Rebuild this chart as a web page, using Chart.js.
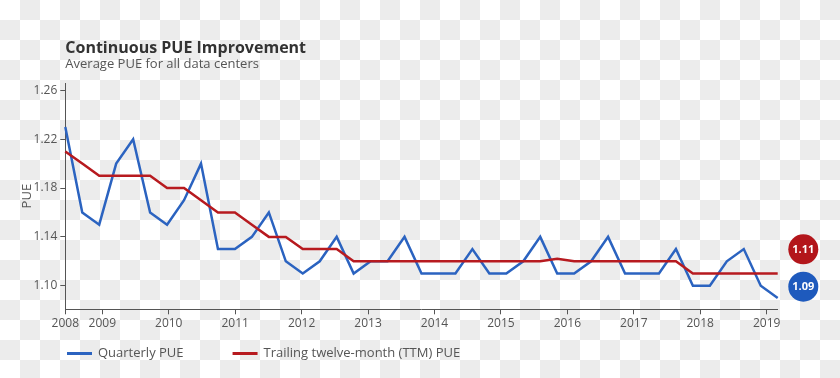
<!DOCTYPE html>
<html>
<head>
<meta charset="utf-8">
<script src="https://cdn.jsdelivr.net/npm/chart.js@4.4.0/dist/chart.umd.min.js"></script>
<style>
  html, body { margin: 0; padding: 0; }
  body {
    width: 840px; height: 378px; overflow: hidden;
    background: repeating-conic-gradient(#ececec 0 25%, #ffffff 0 50%) 0 0 / 40px 40px;
  }
</style>
</head>
<body>
<canvas id="pueChart" width="840" height="378"></canvas>
<script>
// quarterly data, Q3 2008 .. Q1 2019
const quarters = [
  'Q3 2008', 'Q4 2008',
  'Q1 2009', 'Q2 2009', 'Q3 2009', 'Q4 2009',
  'Q1 2010', 'Q2 2010', 'Q3 2010', 'Q4 2010',
  'Q1 2011', 'Q2 2011', 'Q3 2011', 'Q4 2011',
  'Q1 2012', 'Q2 2012', 'Q3 2012', 'Q4 2012',
  'Q1 2013', 'Q2 2013', 'Q3 2013', 'Q4 2013',
  'Q1 2014', 'Q2 2014', 'Q3 2014', 'Q4 2014',
  'Q1 2015', 'Q2 2015', 'Q3 2015', 'Q4 2015',
  'Q1 2016', 'Q2 2016', 'Q3 2016', 'Q4 2016',
  'Q1 2017', 'Q2 2017', 'Q3 2017', 'Q4 2017',
  'Q1 2018', 'Q2 2018', 'Q3 2018', 'Q4 2018',
  'Q1 2019'
];
const quarterlyPue = [
  1.23, 1.16,
  1.15, 1.20, 1.22, 1.16,
  1.15, 1.17, 1.20, 1.13,
  1.13, 1.14, 1.16, 1.12,
  1.11, 1.12, 1.14, 1.11,
  1.12, 1.12, 1.14, 1.11,
  1.11, 1.11, 1.13, 1.11,
  1.11, 1.12, 1.14, 1.11,
  1.11, 1.12, 1.14, 1.11,
  1.11, 1.11, 1.13, 1.10,
  1.10, 1.12, 1.13, 1.10,
  1.09
];
const ttmPue = [
  1.21, 1.20,
  1.19, 1.19, 1.19, 1.19,
  1.18, 1.18, 1.17, 1.16,
  1.16, 1.15, 1.14, 1.14,
  1.13, 1.13, 1.13, 1.12,
  1.12, 1.12, 1.12, 1.12,
  1.12, 1.12, 1.12, 1.12,
  1.12, 1.12, 1.12, 1.122,
  1.12, 1.12, 1.12, 1.12,
  1.12, 1.12, 1.12, 1.11,
  1.11, 1.11, 1.11, 1.11,
  1.11
];
const yTicks = [1.10, 1.14, 1.18, 1.22, 1.26];
const yearTicks = [2009, 2010, 2011, 2012, 2013, 2014, 2015, 2016, 2017, 2018, 2019];
const yearAxisStart = 2008.443;
const yearAxisEnd = 2019.166;

const seriesNames = ['Quarterly PUE', 'Trailing twelve-month (TTM) PUE'];
const lineColors = ['#2b63c0', '#b71a1f'];
const badgeColors = ['#1e5abd', '#b3161b'];

Chart.defaults.font.family = "'Open Sans', sans-serif";
Chart.defaults.color = '#555';

const extras = {
  id: 'extras',
  afterDraw(chart) {
    const { ctx, chartArea } = chart;
    ctx.save();

    // title + subtitle
    ctx.textAlign = 'left';
    ctx.textBaseline = 'alphabetic';
    ctx.fillStyle = '#333';
    ctx.font = "bold 16px 'Open Sans'";
    ctx.fillText('Continuous PUE Improvement', chartArea.left, 53);
    ctx.fillStyle = '#555';
    ctx.font = "13px 'Open Sans'";
    ctx.fillText('Average PUE for all data centers', chartArea.left, 67.5);

    // legend
    let lx = 67;
    const ly = 353.5;
    ctx.textBaseline = 'middle';
    chart.data.datasets.forEach(ds => {
      ctx.strokeStyle = ds.borderColor;
      ctx.lineWidth = 3;
      ctx.beginPath();
      ctx.moveTo(lx, ly);
      ctx.lineTo(lx + 25, ly);
      ctx.stroke();
      ctx.fillStyle = '#555';
      ctx.fillText(ds.label, lx + 31, ly);
      lx += 31 + ctx.measureText(ds.label).width + 49;
    });

    // end-value badges
    const r = 15;
    const yScale = chart.scales.y;
    const badges = chart.data.datasets.map((ds, i) => {
      const v = ds.data[ds.data.length - 1];
      return { v: v, y: yScale.getPixelForValue(v), color: badgeColors[i] };
    }).sort((a, b) => b.y - a.y);
    let limit = chartArea.bottom - 22.6;
    badges.forEach(b => {
      b.y = Math.min(b.y, limit);
      limit = b.y - 37.4;
    });
    ctx.textAlign = 'center';
    ctx.font = "bold 11px 'Open Sans'";
    badges.forEach(b => {
      const bx = chartArea.right + 25.6;
      ctx.fillStyle = b.color;
      ctx.beginPath();
      ctx.arc(bx, b.y, r, 0, Math.PI * 2);
      ctx.fill();
      ctx.fillStyle = '#fff';
      ctx.fillText(b.v.toFixed(2), bx, b.y + 0.5);
    });
    ctx.restore();
  }
};

new Chart(document.getElementById('pueChart'), {
  type: 'line',
  data: {
    labels: quarters,
    datasets: [
      {
        label: seriesNames[0],
        data: quarterlyPue,
        borderColor: lineColors[0],
        borderWidth: 2.5,
        pointRadius: 0,
        tension: 0,
        order: 1
      },
      {
        label: seriesNames[1],
        data: ttmPue,
        borderColor: lineColors[1],
        borderWidth: 2.5,
        pointRadius: 0,
        tension: 0,
        order: 0
      }
    ]
  },
  options: {
    responsive: false,
    animation: false,
    layout: { padding: { top: 83, right: 62.3, bottom: 38.7, left: 0 } },
    plugins: {
      legend: { display: false },
      tooltip: { enabled: false }
    },
    scales: {
      x: { type: 'category', display: false },
      yr: {
        type: 'linear',
        position: 'bottom',
        min: yearAxisStart,
        max: yearAxisEnd,
        afterBuildTicks: axis => {
          axis.ticks = [yearAxisStart].concat(yearTicks).map(v => ({ value: v }));
        },
        afterFit: axis => { axis.height = 30; },
        ticks: {
          autoSkip: false,
          maxRotation: 0,
          padding: 2,
          color: '#555',
          font: { size: 12 },
          callback: v => String(Math.floor(v))
        },
        grid: { drawOnChartArea: false, drawTicks: true, tickLength: 5, color: '#555' },
        border: { color: '#555', width: 1 }
      },
      y: {
        min: 1.0807,
        max: 1.266,
        afterBuildTicks: axis => {
          axis.ticks = yTicks.map(v => ({ value: v }));
        },
        afterFit: axis => { axis.width = 65.3; },
        ticks: {
          padding: 3,
          color: '#555',
          font: { size: 12 },
          callback: v => v.toFixed(2)
        },
        grid: { drawOnChartArea: false, drawTicks: true, tickLength: 5, color: '#555' },
        border: { color: '#555', width: 1 },
        title: {
          display: true,
          text: 'PUE',
          color: '#555',
          font: { size: 13 },
          padding: { top: 19, bottom: 0 }
        }
      }
    }
  },
  plugins: [extras]
});
</script>
</body>
</html>
